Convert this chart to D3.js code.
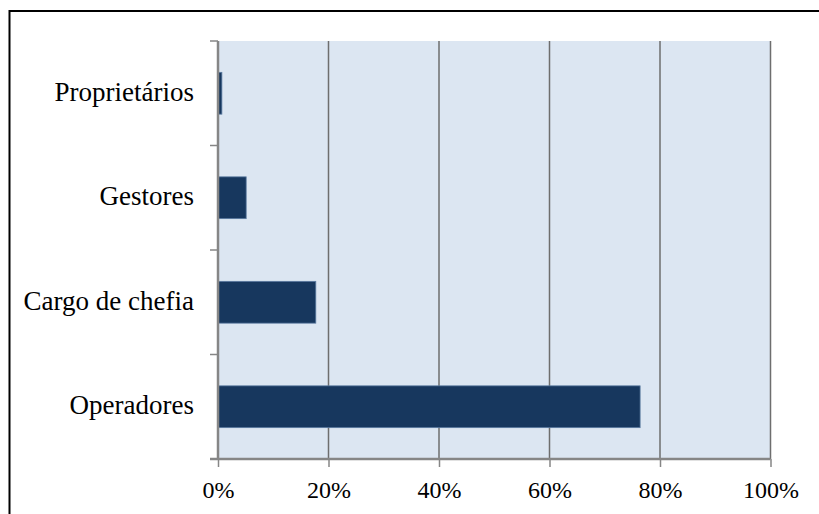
<!DOCTYPE html>
<html><head><meta charset="utf-8">
<script src="https://cdn.jsdelivr.net/npm/d3@7"></script>
<style>body{margin:0;background:#fff}svg{display:block}</style>
</head><body>
<script>
const categories = ["Proprietários", "Gestores", "Cargo de chefia", "Operadores"];
const values = [0.7, 5.1, 17.7, 76.4];
const tickValues = [0, 20, 40, 60, 80, 100];

const W = 819, H = 514;
const m = {left: 218, right: 48.5, top: 41, bottom: 55};
const svg = d3.select("body").append("svg").attr("width", W).attr("height", H);

// outer border (only top and left visible)
svg.append("rect").attr("x", 9.5).attr("y", 11).attr("width", 830).attr("height", 530)
  .attr("fill", "none").attr("stroke", "#000").attr("stroke-width", 2);

const x = d3.scaleLinear().domain([0, 100]).range([m.left, W - m.right]);
const y = d3.scaleBand().domain(categories).range([m.top, H - m.bottom]).paddingInner(0.6).paddingOuter(0.3);
const yOuter = d3.scaleBand().domain(categories).range([m.top, H - m.bottom]);

svg.append("rect").attr("x", x(0)).attr("y", m.top).attr("width", x(100) - x(0))
  .attr("height", H - m.bottom - m.top).attr("fill", "#dce6f2");

// gridlines
svg.append("g").selectAll("line").data(tickValues.filter(d => d > 0)).join("line")
  .attr("x1", d => x(d)).attr("x2", d => x(d))
  .attr("y1", m.top).attr("y2", H - m.bottom)
  .attr("stroke", "#6e6e6e").attr("stroke-width", 1.5);

// bars
svg.append("g").selectAll("rect").data(categories).join("rect")
  .attr("x", x(0)).attr("y", d => y(d))
  .attr("width", (d, i) => x(values[i]) - x(0))
  .attr("height", y.bandwidth())
  .attr("fill", "#17375e").attr("stroke", "#5a7aa0").attr("stroke-width", 0.8);

// x axis
const xAxis = svg.append("g").attr("transform", `translate(0,${H - m.bottom})`)
  .call(d3.axisBottom(x).tickValues(tickValues).tickFormat(d => d + "%").tickSizeInner(8).tickSizeOuter(0));
xAxis.select(".domain").attr("stroke", "#868686").attr("stroke-width", 2.5)
  .attr("d", `M${x(0) - 8},0H${x(100)}`);
xAxis.selectAll(".tick line").attr("stroke", "#868686").attr("stroke-width", 1.5);
xAxis.selectAll("text").attr("font-family", "Liberation Serif, Times New Roman, serif")
  .attr("font-size", 24).attr("fill", "#000").attr("y", 39).attr("dy", 0);

// y axis
const yAxis = svg.append("g").attr("transform", `translate(${x(0)},0)`)
  .call(d3.axisLeft(y).tickSize(0).tickPadding(24));
yAxis.select(".domain").attr("stroke", "#868686").attr("stroke-width", 2.5)
  .attr("d", `M0,${m.top}V${H - m.bottom}`);
yAxis.selectAll("text").attr("font-family", "Liberation Serif, Times New Roman, serif")
  .attr("font-size", 27).attr("fill", "#000").attr("dy", "0.28em");
// category boundary ticks
svg.append("g").selectAll("line").data(categories.map(c => yOuter(c))).join("line")
  .attr("x1", x(0) - 8).attr("x2", x(0)).attr("y1", d => d).attr("y2", d => d)
  .attr("stroke", "#868686").attr("stroke-width", 1.5);
</script>
</body></html>
